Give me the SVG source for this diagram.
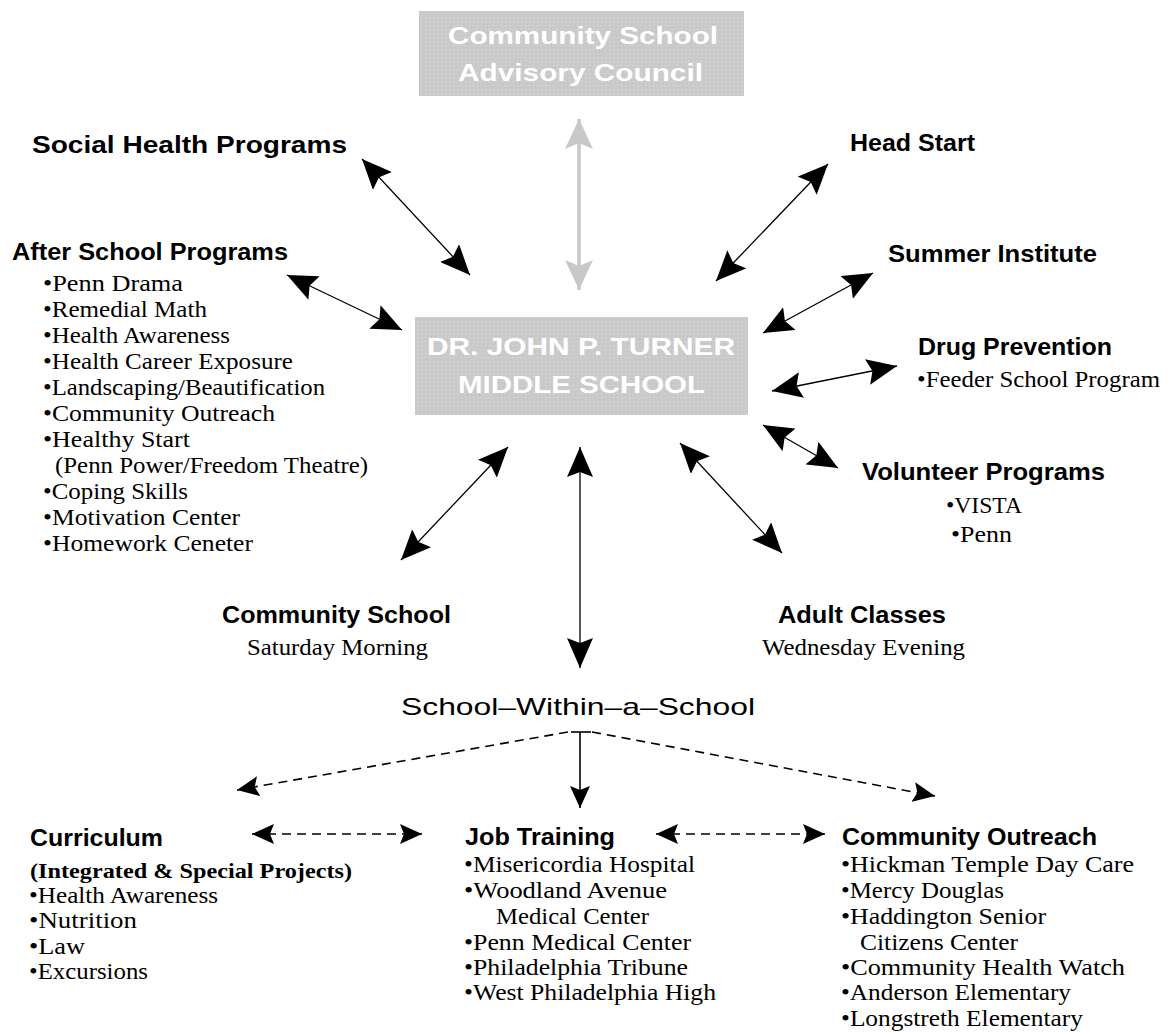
<svg xmlns="http://www.w3.org/2000/svg" width="1168" height="1032" viewBox="0 0 1168 1032">
<style>
.h{font-family:"Liberation Sans",Arial,sans-serif;font-weight:bold;font-size:24px;fill:#000}
.hr{font-family:"Liberation Sans",Arial,sans-serif;font-size:24px;fill:#000}
.bx{font-family:"Liberation Sans",Arial,sans-serif;font-weight:bold;font-size:24px;fill:#fff}
.s{font-family:"Liberation Serif","Times New Roman",serif;font-size:23px;fill:#000}
.sb{font-family:"Liberation Serif","Times New Roman",serif;font-weight:bold;font-size:22px;fill:#000}
.ln{stroke:#000;stroke-width:1.3;fill:none;marker-start:url(#ah);marker-end:url(#ah)}
.dl{stroke:#000;stroke-width:1.6;fill:none;stroke-dasharray:9 6}
</style>
<defs>
<pattern id="dots" width="4" height="4" patternUnits="userSpaceOnUse">
<rect width="4" height="4" fill="#c9c9c9"/>
<rect x="1" y="1" width="1" height="1" fill="#dedede"/>
</pattern>
<marker id="ah" viewBox="0 0 30 26" refX="30" refY="13" markerWidth="30" markerHeight="26" markerUnits="userSpaceOnUse" orient="auto-start-reverse">
<path d="M0,0 L30,13 L0,26 L5,13 z" fill="#000"/>
</marker>
<marker id="ahg" viewBox="0 0 30 28" refX="30" refY="14" markerWidth="30" markerHeight="28" markerUnits="userSpaceOnUse" orient="auto-start-reverse">
<path d="M0,0 L30,14 L0,28 L6,14 z" fill="#c8c8c8"/>
</marker>
<marker id="ahs" viewBox="0 0 22 20" refX="22" refY="10" markerWidth="22" markerHeight="20" markerUnits="userSpaceOnUse" orient="auto-start-reverse">
<path d="M0,0 L22,10 L0,20 L4,10 z" fill="#000"/>
</marker>
</defs>
<rect width="1168" height="1032" fill="#fff"/>

<g id="connectors">
<line x1="579" y1="119" x2="579" y2="290" stroke="#c8c8c8" stroke-width="3.5" marker-start="url(#ahg)" marker-end="url(#ahg)"/>
<line class="ln" x1="362" y1="159" x2="470" y2="275"/>
<line class="ln" x1="828" y1="164" x2="716" y2="281"/>
<line class="ln" x1="287" y1="275" x2="402" y2="330"/>
<line class="ln" x1="873" y1="273" x2="763" y2="333"/>
<line class="ln" x1="897" y1="366" x2="772" y2="391"/>
<line class="ln" x1="763" y1="425" x2="838" y2="468"/>
<line class="ln" x1="508" y1="447" x2="401" y2="560"/>
<line class="ln" x1="580" y1="447" x2="580" y2="668"/>
<line class="ln" x1="680" y1="443" x2="782" y2="553"/>
<line class="dl" x1="568" y1="732" x2="237" y2="790" marker-end="url(#ahs)"/>
<line class="dl" x1="592" y1="732" x2="935" y2="796" marker-end="url(#ahs)"/>
<line x1="571" y1="732" x2="591" y2="732" stroke="#000" stroke-width="1.6"/>
<line x1="580" y1="732" x2="580" y2="808" stroke="#000" stroke-width="1.6" marker-end="url(#ahs)"/>
<line class="dl" x1="252" y1="834" x2="422" y2="834" marker-start="url(#ahs)" marker-end="url(#ahs)"/>
<line class="dl" x1="656" y1="834" x2="825" y2="834" marker-start="url(#ahs)" marker-end="url(#ahs)"/>
</g>

<g id="advisory-council">
<rect x="419" y="11" width="325" height="85" fill="url(#dots)"/>
<text class="bx" x="448" y="44" textLength="270" lengthAdjust="spacingAndGlyphs">Community School</text>
<text class="bx" x="458" y="81" textLength="245" lengthAdjust="spacingAndGlyphs">Advisory Council</text>
</g>

<g id="turner-school">
<rect x="415" y="317" width="333" height="98" fill="url(#dots)"/>
<text class="bx" x="427" y="355" textLength="308" lengthAdjust="spacingAndGlyphs">DR. JOHN P. TURNER</text>
<text class="bx" x="458" y="393" textLength="247" lengthAdjust="spacingAndGlyphs">MIDDLE SCHOOL</text>
</g>

<g id="social-health">
<text class="h" x="32" y="153" textLength="315" lengthAdjust="spacingAndGlyphs">Social Health Programs</text>
</g>

<g id="head-start">
<text class="h" x="850" y="151" textLength="125" lengthAdjust="spacingAndGlyphs">Head Start</text>
</g>

<g id="after-school">
<text class="h" x="12" y="260" textLength="276" lengthAdjust="spacingAndGlyphs">After School Programs</text>
<text class="s" x="43" y="291" textLength="140" lengthAdjust="spacingAndGlyphs">•Penn Drama</text>
<text class="s" x="43" y="317" textLength="164" lengthAdjust="spacingAndGlyphs">•Remedial Math</text>
<text class="s" x="43" y="343" textLength="187" lengthAdjust="spacingAndGlyphs">•Health Awareness</text>
<text class="s" x="43" y="369" textLength="250" lengthAdjust="spacingAndGlyphs">•Health Career Exposure</text>
<text class="s" x="43" y="395" textLength="282" lengthAdjust="spacingAndGlyphs">•Landscaping/Beautification</text>
<text class="s" x="43" y="421" textLength="232" lengthAdjust="spacingAndGlyphs">•Community Outreach</text>
<text class="s" x="43" y="447" textLength="147" lengthAdjust="spacingAndGlyphs">•Healthy Start</text>
<text class="s" x="55" y="473" textLength="313" lengthAdjust="spacingAndGlyphs">(Penn Power/Freedom Theatre)</text>
<text class="s" x="43" y="499" textLength="145" lengthAdjust="spacingAndGlyphs">•Coping Skills</text>
<text class="s" x="43" y="525" textLength="197" lengthAdjust="spacingAndGlyphs">•Motivation Center</text>
<text class="s" x="43" y="551" textLength="210" lengthAdjust="spacingAndGlyphs">•Homework Ceneter</text>
</g>

<g id="summer-institute">
<text class="h" x="888" y="262" textLength="209" lengthAdjust="spacingAndGlyphs">Summer Institute</text>
</g>

<g id="drug-prevention">
<text class="h" x="918" y="355" textLength="194" lengthAdjust="spacingAndGlyphs">Drug Prevention</text>
<text class="s" x="917" y="387" textLength="243" lengthAdjust="spacingAndGlyphs">•Feeder School Program</text>
</g>

<g id="volunteer-programs">
<text class="h" x="862" y="480" textLength="243" lengthAdjust="spacingAndGlyphs">Volunteer Programs</text>
<text class="s" x="946" y="513" textLength="76" lengthAdjust="spacingAndGlyphs">•VISTA</text>
<text class="s" x="951" y="542" textLength="61" lengthAdjust="spacingAndGlyphs">•Penn</text>
</g>

<g id="community-school">
<text class="h" x="222" y="623" textLength="229" lengthAdjust="spacingAndGlyphs">Community School</text>
<text class="s" x="247" y="655" textLength="181" lengthAdjust="spacingAndGlyphs">Saturday Morning</text>
</g>

<g id="adult-classes">
<text class="h" x="778" y="623" textLength="168" lengthAdjust="spacingAndGlyphs">Adult Classes</text>
<text class="s" x="762" y="655" textLength="203" lengthAdjust="spacingAndGlyphs">Wednesday Evening</text>
</g>

<g id="school-within">
<text class="hr" x="401" y="715" textLength="354" lengthAdjust="spacingAndGlyphs">School–Within–a–School</text>
</g>

<g id="curriculum">
<text class="h" x="30" y="846" textLength="133" lengthAdjust="spacingAndGlyphs">Curriculum</text>
<text class="sb" x="30" y="878" textLength="322" lengthAdjust="spacingAndGlyphs">(Integrated &amp; Special Projects)</text>
<text class="s" x="29" y="903" textLength="189" lengthAdjust="spacingAndGlyphs">•Health Awareness</text>
<text class="s" x="29" y="928" textLength="108" lengthAdjust="spacingAndGlyphs">•Nutrition</text>
<text class="s" x="29" y="954" textLength="56" lengthAdjust="spacingAndGlyphs">•Law</text>
<text class="s" x="29" y="979" textLength="119" lengthAdjust="spacingAndGlyphs">•Excursions</text>
</g>

<g id="job-training">
<text class="h" x="465" y="845" textLength="150" lengthAdjust="spacingAndGlyphs">Job Training</text>
<text class="s" x="464" y="872" textLength="231" lengthAdjust="spacingAndGlyphs">•Misericordia Hospital</text>
<text class="s" x="464" y="898" textLength="203" lengthAdjust="spacingAndGlyphs">•Woodland Avenue</text>
<text class="s" x="496" y="924" textLength="153" lengthAdjust="spacingAndGlyphs">Medical Center</text>
<text class="s" x="464" y="950" textLength="227" lengthAdjust="spacingAndGlyphs">•Penn Medical Center</text>
<text class="s" x="464" y="975" textLength="224" lengthAdjust="spacingAndGlyphs">•Philadelphia Tribune</text>
<text class="s" x="464" y="1000" textLength="252" lengthAdjust="spacingAndGlyphs">•West Philadelphia High</text>
</g>

<g id="community-outreach">
<text class="h" x="842" y="845" textLength="255" lengthAdjust="spacingAndGlyphs">Community Outreach</text>
<text class="s" x="841" y="872" textLength="293" lengthAdjust="spacingAndGlyphs">•Hickman Temple Day Care</text>
<text class="s" x="841" y="898" textLength="163" lengthAdjust="spacingAndGlyphs">•Mercy Douglas</text>
<text class="s" x="841" y="924" textLength="205" lengthAdjust="spacingAndGlyphs">•Haddington Senior</text>
<text class="s" x="860" y="950" textLength="158" lengthAdjust="spacingAndGlyphs">Citizens Center</text>
<text class="s" x="841" y="975" textLength="284" lengthAdjust="spacingAndGlyphs">•Community Health Watch</text>
<text class="s" x="841" y="1000" textLength="230" lengthAdjust="spacingAndGlyphs">•Anderson Elementary</text>
<text class="s" x="841" y="1026" textLength="242" lengthAdjust="spacingAndGlyphs">•Longstreth Elementary</text>
</g>
</svg>
